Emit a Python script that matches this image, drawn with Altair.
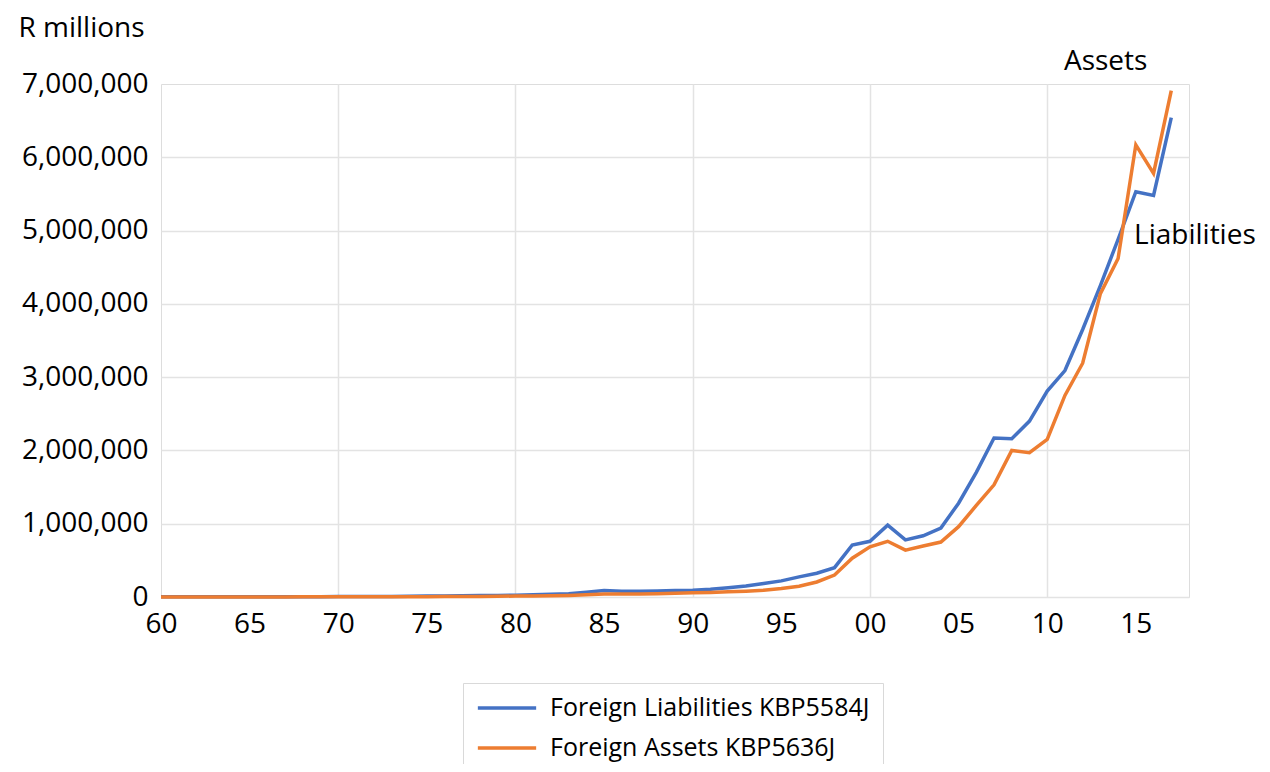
import altair as alt
import pandas as pd

years = list(range(1960, 2018))

liabilities = [
    2500, 2600, 2700, 2800, 3000, 3300, 3500, 3800, 4200, 4600,
    5200, 6000, 6800, 7500, 9000, 12000, 15000, 17000, 19000, 21000,
    24000, 30000, 38000, 45000, 65000, 88000, 80000, 78000, 82000, 88000,
    92000, 105000, 125000, 150000, 185000, 220000, 275000, 325000, 400000, 710000,
    760000, 980000, 780000, 835000, 940000, 1280000, 1700000, 2170000, 2160000, 2400000,
    2810000, 3090000, 3650000, 4250000, 4880000, 5530000, 5480000, 6540000,
]

assets = [
    1000, 1000, 1100, 1200, 1300, 1400, 1500, 1600, 1800, 2000,
    2200, 2400, 2800, 3200, 3800, 4500, 5500, 6500, 8000, 10000,
    13000, 15000, 18000, 22000, 30000, 42000, 40000, 42000, 46000, 52000,
    58000, 63000, 70000, 80000, 92000, 115000, 148000, 205000, 300000, 530000,
    685000, 760000, 640000, 695000, 750000, 960000, 1250000, 1530000, 2000000, 1970000,
    2150000, 2750000, 3190000, 4140000, 4620000, 6170000, 5780000, 6910000,
]

series_names = ["Foreign Liabilities KBP5584J", "Foreign Assets KBP5636J"]
series_colors = ["#4472C4", "#ED7D31"]

y_ticks = [0, 1000000, 2000000, 3000000, 4000000, 5000000, 6000000, 7000000]
x_ticks = list(range(1960, 2016, 5))

annot_text = ["Assets", "Liabilities"]
annot_year = [2013.3, 2014.9]
annot_value = [7300000, 4930000]
annot_align = ["center", "left"]

FONT = "Open Sans"

df = pd.DataFrame(
    {
        "year": years * 2,
        "value": liabilities + assets,
        "series": [series_names[0]] * len(years) + [series_names[1]] * len(years),
    }
)
ann = pd.DataFrame({"text": annot_text, "year": annot_year, "value": annot_value, "align": annot_align})

x_scale = alt.Scale(domain=[1960, 2018], nice=False, zero=False)
y_scale = alt.Scale(domain=[0, 7000000], nice=False)
color_scale = alt.Scale(domain=series_names, range=series_colors)

x_enc = alt.X(
    "year:Q",
    scale=x_scale,
    axis=alt.Axis(
        values=x_ticks,
        title=None,
        labelExpr="substring(toString(datum.value), 2)",
        labelFont=FONT,
        labelFontSize=28,
        labelColor="#000000",
        labelPadding=13,
        ticks=False,
        domain=False,
        labelFlush=False,
        gridColor={
            "condition": {"test": "datum.value % 10 != 0 || datum.value == 1960", "value": "transparent"},
            "value": "#e3e3e3",
        },
        gridWidth=1.5,
    ),
)
y_enc = alt.Y(
    "value:Q",
    scale=y_scale,
    axis=alt.Axis(
        values=y_ticks,
        format=",d",
        title="R millions",
        titleAngle=0,
        titleAlign="left",
        titleBaseline="middle",
        titleX=-143,
        titleY=-56,
        titleFont=FONT,
        titleFontSize=28,
        titleFontWeight="normal",
        titleColor="#000000",
        labelFont=FONT,
        labelFontSize=28,
        labelColor="#000000",
        labelPadding=13,
        ticks=False,
        domain=False,
        gridColor={
            "condition": {"test": "datum.value >= 7000000", "value": "transparent"},
            "value": "#e3e3e3",
        },
        gridWidth=1.5,
    ),
)

legend = alt.Legend(
    title=None,
    orient="none",
    legendX=302,
    legendY=599,
    direction="vertical",
    symbolType="stroke",
    symbolSize=3400,
    symbolStrokeWidth=3.5,
    clipHeight=24,
    labelFont=FONT,
    labelFontSize=25,
    labelColor="#000000",
    labelOffset=12,
    rowPadding=15,
    padding=13,
    strokeColor="#d9d9d9",
    fillColor="#ffffff",
    labelLimit=500,
)

base = alt.Chart(df)
line_l = base.transform_filter(alt.datum.series == series_names[0]).mark_line(strokeWidth=3.5).encode(
    x=x_enc, y=y_enc, color=alt.Color("series:N", scale=color_scale, legend=legend, sort=series_names)
)
line_a = base.transform_filter(alt.datum.series == series_names[1]).mark_line(strokeWidth=3.5).encode(
    x="year:Q", y="value:Q", color=alt.Color("series:N", scale=color_scale, legend=legend, sort=series_names)
)

text_c = alt.Chart(ann).transform_filter(alt.datum.align == "center").mark_text(
    font=FONT, fontSize=28, color="#000000", align="center", baseline="middle"
).encode(x="year:Q", y="value:Q", text="text:N")
text_l = alt.Chart(ann).transform_filter(alt.datum.align == "left").mark_text(
    font=FONT, fontSize=28, color="#000000", align="left", baseline="middle"
).encode(x="year:Q", y="value:Q", text="text:N")

chart = (
    alt.layer(line_l, line_a, text_c, text_l)
    .properties(
        width=1028,
        height=513,
        autosize=alt.AutoSizeParams(type="none"),
        padding={"left": 153, "top": 76, "right": 73, "bottom": 167},
    )
    .configure_view(stroke=None)
    .configure(background="#ffffff")
)

chart.save("out.html", embed_options={"renderer": "svg", "actions": False})
